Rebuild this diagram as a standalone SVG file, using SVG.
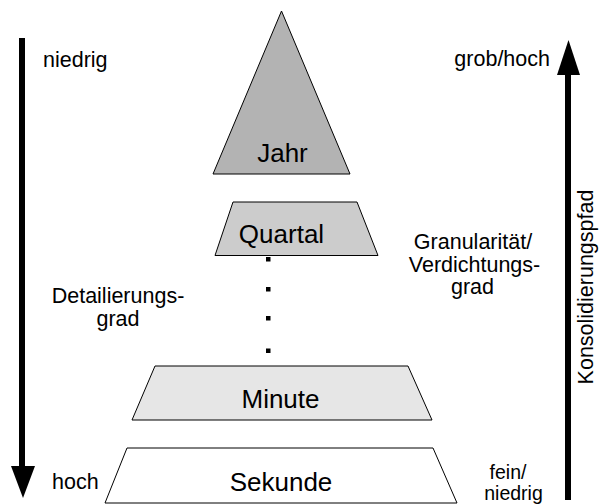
<svg xmlns="http://www.w3.org/2000/svg" width="601" height="504" viewBox="0 0 601 504">
<style>
.t{font-family:"Liberation Sans",Arial,sans-serif;fill:#000}
.s{font-size:21.5px}
.f{font-size:19.5px}
.n{font-size:26px;text-anchor:middle}
.shape{stroke:#000;stroke-width:1}
</style>
<rect width="601" height="504" fill="#fff"/>
<g id="connectors">
<line x1="22" y1="38" x2="22" y2="470" stroke="#000" stroke-width="6"/>
<polygon points="11,466 35,466 23,498" fill="#000"/>
<line x1="568" y1="72" x2="568" y2="500" stroke="#000" stroke-width="6"/>
<polygon points="557,75 580,75 568.5,40" fill="#000"/>
</g>
<g id="jahr">
<polygon class="shape" points="281.5,11 350,174 213,174" fill="#b3b3b3"/>
<text class="t n" x="282.5" y="161.5">Jahr</text>
</g>
<g id="quartal">
<polygon class="shape" points="233,202 357,202 378,255.5 215,255.5" fill="#cccccc"/>
<text class="t n" x="281.5" y="243">Quartal</text>
</g>
<g id="dots">
<rect x="266" y="257" width="4.5" height="4.5" fill="#000"/>
<rect x="266" y="287" width="4.5" height="4.5" fill="#000"/>
<rect x="266" y="316" width="4.5" height="4.5" fill="#000"/>
<rect x="266" y="348.5" width="4.5" height="4.5" fill="#000"/>
</g>
<g id="minute">
<polygon class="shape" points="155,366 408,366 432,420 132,420" fill="#e6e6e6"/>
<text class="t n" x="280.5" y="408">Minute</text>
</g>
<g id="sekunde">
<polygon class="shape" points="127,448 433,448 457,503 105,503" fill="#fff"/>
<text class="t n" x="281" y="490.5">Sekunde</text>
</g>
<g id="labels">
<text class="t s" x="43" y="67">niedrig</text>
<text class="t s" x="550" y="66" text-anchor="end">grob/hoch</text>
<text class="t s" x="52" y="488.5">hoch</text>
<text class="t f" text-anchor="middle"><tspan x="508" y="478.5">fein/</tspan><tspan x="513.5" y="499.5">niedrig</tspan></text>
<text class="t s" text-anchor="middle"><tspan x="473" y="248.5">Granularität/</tspan><tspan x="474.5" y="271.5">Verdichtungs-</tspan><tspan x="472.5" y="294">grad</tspan></text>
<text class="t s" text-anchor="middle"><tspan x="118" y="303">Detailierungs-</tspan><tspan x="118" y="326">grad</tspan></text>
<text class="t s" text-anchor="middle" transform="translate(593,287) rotate(-90)" x="0" y="0">Konsolidierungspfad</text>
</g>
</svg>
